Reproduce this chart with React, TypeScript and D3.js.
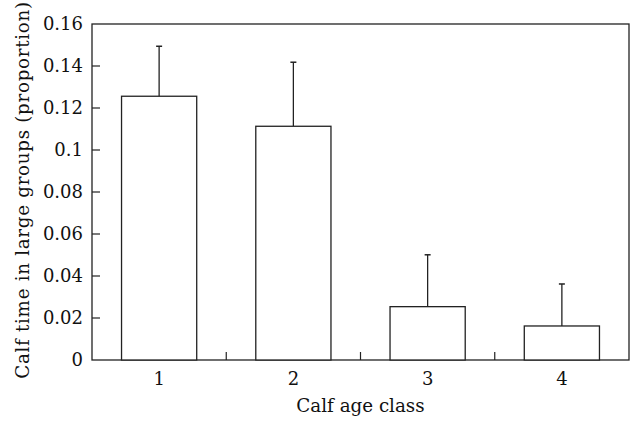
import React, { useEffect, useRef } from 'react'
import * as d3 from 'd3'

// calf age classes and proportion of time spent in large groups
const classes = ['1', '2', '3', '4']
const means = [0.1256, 0.1113, 0.0254, 0.0162]
const upper = [0.1494, 0.1418, 0.0501, 0.0362]
const yTicks = [0, 0.02, 0.04, 0.06, 0.08, 0.1, 0.12, 0.14, 0.16]

export default function App() {
    const svgRef = useRef<SVGSVGElement>(null)
    const width = 632
    const height = 423
    const margin = { top: 24, right: 3, bottom: 63, left: 92 }

    useEffect(() => {
        const svg = d3.select(svgRef.current)
        svg.selectAll('*').remove()

        const font = '"DejaVu Serif", serif'
        const ink = '#222'
        const fs = 18

        const x = d3.scaleBand()
            .domain(classes)
            .range([margin.left, width - margin.right])
            .paddingInner(0.44)
            .paddingOuter(0.22)

        const y = d3.scaleLinear()
            .domain([0, 0.16])
            .range([height - margin.bottom, margin.top])

        const x0 = margin.left
        const x1 = width - margin.right
        const y0 = y(0)
        const yTop = y(0.16)

        // frame
        svg.append('rect')
            .attr('x', x0)
            .attr('y', yTop)
            .attr('width', x1 - x0)
            .attr('height', y0 - yTop)
            .attr('fill', 'none')
            .attr('stroke', ink)
            .attr('stroke-width', 1.3)

        // y ticks, pointing inward
        const yAxis = svg.append('g')
        yAxis.selectAll('line')
            .data(yTicks.slice(1, -1))
            .join('line')
            .attr('x1', x0)
            .attr('x2', x0 + 8)
            .attr('y1', d => y(d))
            .attr('y2', d => y(d))
            .attr('stroke', ink)
            .attr('stroke-width', 1.2)
        yAxis.selectAll('text')
            .data(yTicks)
            .join('text')
            .attr('x', x0 - 9)
            .attr('y', d => y(d))
            .attr('dy', '0.36em')
            .attr('text-anchor', 'end')
            .attr('font-family', font)
            .attr('font-size', fs)
            .attr('fill', '#111')
            .text(d => d === 0 ? '0' : d3.format('')(+d.toFixed(2)))

        // x ticks between categories
        const step = x.step()
        svg.append('g')
            .selectAll('line')
            .data(classes.slice(1))
            .join('line')
            .attr('x1', (d, i) => x0 + step * (i + 1))
            .attr('x2', (d, i) => x0 + step * (i + 1))
            .attr('y1', y0)
            .attr('y2', y0 - 8)
            .attr('stroke', ink)
            .attr('stroke-width', 1.2)

        svg.append('g')
            .selectAll('text')
            .data(classes)
            .join('text')
            .attr('x', d => x(d)! + x.bandwidth() / 2)
            .attr('y', y0 + 25)
            .attr('text-anchor', 'middle')
            .attr('font-family', font)
            .attr('font-size', fs)
            .attr('fill', '#111')
            .text(d => d)

        // error bars (upper only)
        const err = svg.append('g')
        err.selectAll('line.stem')
            .data(classes)
            .join('line')
            .attr('class', 'stem')
            .attr('x1', d => x(d)! + x.bandwidth() / 2)
            .attr('x2', d => x(d)! + x.bandwidth() / 2)
            .attr('y1', (d, i) => y(means[i]))
            .attr('y2', (d, i) => y(upper[i]))
            .attr('stroke', ink)
            .attr('stroke-width', 1.3)
        err.selectAll('line.cap')
            .data(classes)
            .join('line')
            .attr('class', 'cap')
            .attr('x1', d => x(d)! + x.bandwidth() / 2 - 3)
            .attr('x2', d => x(d)! + x.bandwidth() / 2 + 3)
            .attr('y1', (d, i) => y(upper[i]))
            .attr('y2', (d, i) => y(upper[i]))
            .attr('stroke', ink)
            .attr('stroke-width', 1.5)

        // bars
        svg.append('g')
            .selectAll('rect')
            .data(classes)
            .join('rect')
            .attr('x', d => x(d)!)
            .attr('y', (d, i) => y(means[i]))
            .attr('width', x.bandwidth())
            .attr('height', (d, i) => y0 - y(means[i]))
            .attr('fill', 'white')
            .attr('stroke', ink)
            .attr('stroke-width', 1.3)

        // axis titles
        svg.append('text')
            .attr('x', (x0 + x1) / 2)
            .attr('y', height - 11)
            .attr('text-anchor', 'middle')
            .attr('font-family', font)
            .attr('font-size', fs + 0.3)
            .attr('fill', '#111')
            .text('Calf age class')

        svg.append('text')
            .attr('transform', `translate(29,190) rotate(-90)`)
            .attr('text-anchor', 'middle')
            .attr('font-family', font)
            .attr('font-size', fs + 0.3)
            .attr('letter-spacing', '0.7px')
            .attr('fill', '#111')
            .text('Calf time in large groups (proportion)')
    }, [])

    return (
        <svg
            ref={svgRef}
            width={width}
            height={height}
            style={{ position: 'absolute', left: 0, top: 0, background: 'white' }}
        />
    )
}
